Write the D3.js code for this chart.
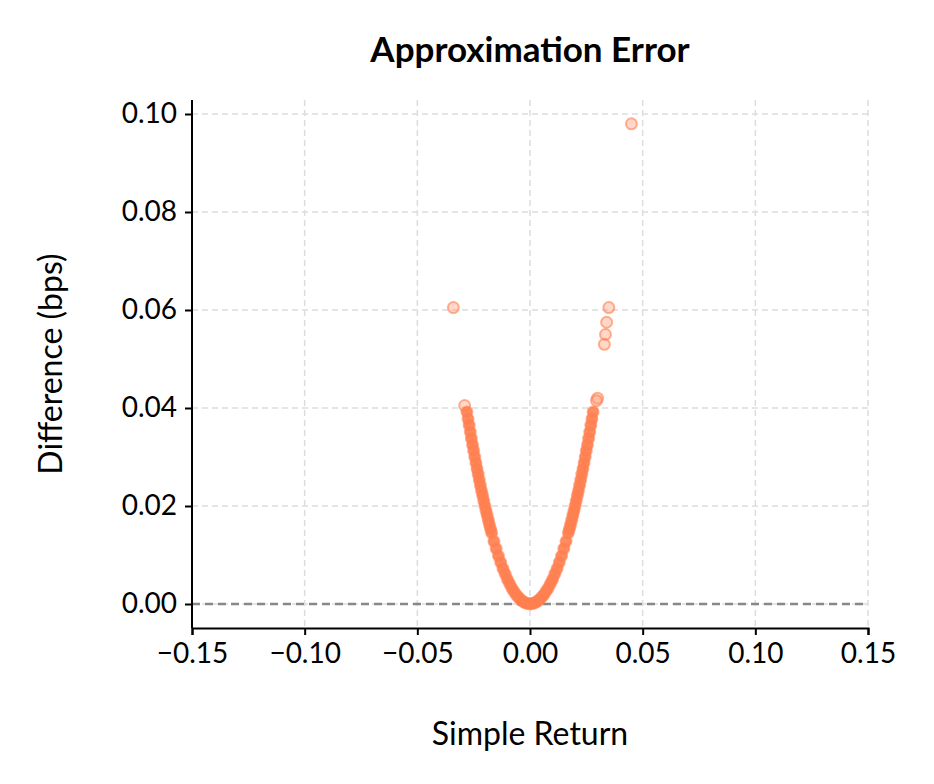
<!DOCTYPE html>
<html><head><meta charset="utf-8">
<script src="https://cdn.jsdelivr.net/npm/d3@7"></script>
<style>body{margin:0;background:#fff}text{font-family:Lato,sans-serif}</style>
</head><body><svg id="c" width="934" height="784"></svg>
<script>
const simpleReturn = [-0.034,-0.029,-0.028,-0.0275,-0.027,-0.0265,-0.026,-0.0255,-0.025,-0.0245,-0.024,-0.0235,-0.023,-0.0225,-0.022,-0.0215,-0.021,-0.0205,-0.02,-0.0195,-0.019,-0.0185,-0.018,-0.0175,-0.017,-0.016,-0.015,-0.014,-0.013,-0.012,-0.011,-0.01,-0.009,-0.008,-0.007,-0.006,-0.005,-0.004,-0.003,-0.002,-0.001,0,
0.001,0.002,0.003,0.004,0.005,0.006,0.007,0.008,0.009,0.01,0.011,0.012,0.013,0.014,0.015,0.016,0.017,0.0175,0.018,0.0185,0.019,0.0195,0.02,0.0205,0.021,0.0215,0.022,0.0225,0.023,0.0235,0.024,0.0245,0.025,0.0255,0.026,0.0265,0.027,0.0275,0.028,0.0295,0.030,0.033,0.0335,0.034,0.035,0.045];
const differenceBps = [0.0605,0.0405,0.0392,0.0378,0.0365,0.0351,0.0338,0.0325,0.0313,0.0300,0.0288,0.0276,0.0265,0.0253,0.0242,0.0231,0.0221,0.0210,0.0200,0.0190,0.0181,0.0171,0.0162,0.0153,0.0145,0.0128,0.0113,0.0098,0.0085,0.0072,0.0061,0.0050,0.0041,0.0032,0.0025,0.0018,0.0013,0.0008,0.0005,0.0002,0.0001,0,
0.0001,0.0002,0.0005,0.0008,0.0013,0.0018,0.0025,0.0032,0.0041,0.0050,0.0061,0.0072,0.0085,0.0098,0.0113,0.0128,0.0145,0.0153,0.0162,0.0171,0.0181,0.0190,0.0200,0.0210,0.0221,0.0231,0.0242,0.0253,0.0265,0.0276,0.0288,0.0300,0.0313,0.0325,0.0338,0.0351,0.0365,0.0378,0.0392,0.0415,0.042,0.053,0.055,0.0575,0.0605,0.098];
const xTicks = [-0.15,-0.10,-0.05,0.00,0.05,0.10,0.15];
const yTicks = [0.00,0.02,0.04,0.06,0.08,0.10];

const svg = d3.select("#c");
const L=192,R=868,T=100,B=628;
const x = d3.scaleLinear().domain([-0.15,0.15]).range([L,R]);
const y = d3.scaleLinear().domain([0,0.10]).range([604,114]);
const g = svg.append("g");
g.selectAll(".gx").data(xTicks).join("line").attr("x1",d=>x(d)).attr("x2",d=>x(d)).attr("y1",T).attr("y2",B)
 .attr("stroke","#ddd").attr("stroke-dasharray","6,4").attr("stroke-width",1.5);
g.selectAll(".gy").data(yTicks).join("line").attr("x1",L).attr("x2",R).attr("y1",d=>y(d)).attr("y2",d=>y(d))
 .attr("stroke","#ddd").attr("stroke-dasharray","6,4").attr("stroke-width",1.5);
g.append("line").attr("x1",L).attr("x2",R).attr("y1",y(0)).attr("y2",y(0)).attr("stroke","#888").attr("stroke-width",2.5).attr("stroke-dasharray","8,5");
const pts = simpleReturn.map((r,i)=>[r,differenceBps[i]]);
g.selectAll("circle").data(pts).join("circle").attr("cx",d=>x(d[0])).attr("cy",d=>y(d[1])).attr("r",5.5)
 .attr("fill","#ff7f50").attr("fill-opacity",d=>d[1]>0.04?0.3:0.9).attr("stroke","#ff7f50").attr("stroke-opacity",0.6).attr("stroke-width",2);
const xa = svg.append("g").attr("transform",`translate(0,${B})`).call(d3.axisBottom(x).tickValues(xTicks).tickFormat(d=>d3.format(".2f")(d).replace("-","−")).tickSize(7).tickPadding(8));
const ya = svg.append("g").attr("transform",`translate(${L},0)`).call(d3.axisLeft(y).tickValues(yTicks).tickFormat(d3.format(".2f")).tickSize(7).tickPadding(8));
ya.select(".domain").attr("d",`M-0,${T}V${B}`);
[xa,ya].forEach(a=>{a.selectAll("text").attr("font-size",28).attr("fill","#000").attr("font-family","Lato");
 a.selectAll("line,path").attr("stroke","#000").attr("stroke-width",2);});
svg.append("text").attr("x",530).attr("y",62).attr("text-anchor","middle").attr("font-size",35).attr("font-weight","bold").text("Approximation Error");
svg.append("text").attr("x",530).attr("y",745).attr("text-anchor","middle").attr("font-size",32).text("Simple Return");
svg.append("text").attr("transform","translate(62,364) rotate(-90)").attr("text-anchor","middle").attr("font-size",32).text("Difference (bps)");
</script></body></html>
